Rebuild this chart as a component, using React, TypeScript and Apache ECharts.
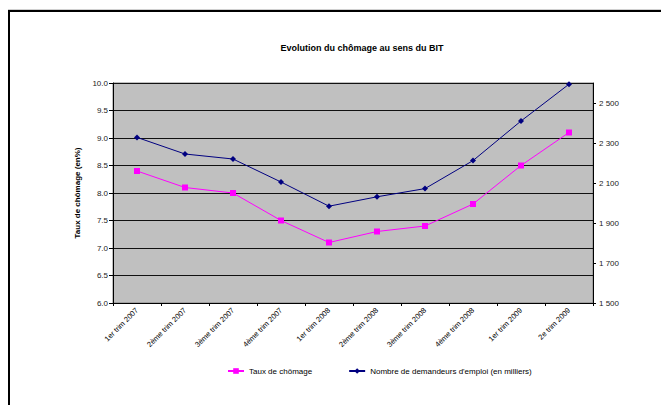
import React, { useEffect, useRef } from "react";
import * as echarts from "echarts";

const categories = [
  "1er trim 2007",
  "2ème trim 2007",
  "3ème trim 2007",
  "4ème trim 2007",
  "1er trim 2008",
  "2ème trim 2008",
  "3ème trim 2008",
  "4ème trim 2008",
  "1er trim 2009",
  "2e trim 2009",
];
const tauxChomage = [8.4, 8.1, 8.0, 7.5, 7.1, 7.3, 7.4, 7.8, 8.5, 9.1];
const demandeurs = [2328, 2245, 2220, 2105, 1984, 2031, 2072, 2212, 2410, 2594];
const rightTicks = [1500, 1700, 1900, 2100, 2300, 2500];

const FONT = "Liberation Sans, Arial, sans-serif";

export default function App() {
  const ref = useRef<HTMLDivElement>(null);
  useEffect(() => {
    if (!ref.current) return;
    const chart = echarts.init(ref.current, null, { renderer: "svg" });
    chart.setOption({
      animation: false,
      backgroundColor: "#ffffff",
      textStyle: { fontFamily: FONT },
      title: {
        text: "Evolution du chômage au sens du BIT",
        left: 357,
        textAlign: "center",
        top: 38,
        textStyle: { fontFamily: FONT, fontSize: 9, fontWeight: "bold", color: "#000" },
      },
      graphic: [
        {
          type: "line",
          shape: { x1: 8, y1: 9.5, x2: 661, y2: 9.5 },
          style: { stroke: "#d0d0d0", lineWidth: 1 },
          silent: true,
        },
        {
          type: "rect",
          shape: { x: 9, y: 11, width: 700, height: 500 },
          style: { fill: "none", stroke: "#000", lineWidth: 2 },
          silent: true,
        },
      ],
      legend: {
        left: 222,
        top: 362,
        itemWidth: 16,
        itemHeight: 7,
        itemGap: 36,
        textStyle: { fontFamily: FONT, fontSize: 8, color: "#000" },
        data: ["Taux de chômage", "Nombre de demandeurs d'emploi (en milliers)"],
      },
      grid: {
        left: 113,
        right: 68,
        top: 83,
        bottom: 102,
        show: true,
        backgroundColor: "#c0c0c0",
        borderColor: "#808080",
        borderWidth: 1,
      },
      xAxis: {
        type: "category",
        data: categories,
        boundaryGap: true,
        axisLine: { lineStyle: { color: "#000", width: 1 } },
        axisTick: { show: true, length: 3, lineStyle: { color: "#000" } },
        axisLabel: {
          rotate: 45,
          fontFamily: FONT,
          fontSize: 7.5,
          color: "#000",
          margin: 6,
          interval: 0,
        },
      },
      yAxis: [
        {
          type: "value",
          min: 6,
          max: 10,
          interval: 0.5,
          name: "Taux de chômage (en%)",
          nameLocation: "middle",
          nameGap: 23,
          nameTextStyle: { fontFamily: FONT, fontSize: 8, fontWeight: "bold", color: "#000" },
          axisLine: { show: true, lineStyle: { color: "#000", width: 1 } },
          axisTick: { show: true, length: 4, lineStyle: { color: "#000" } },
          axisLabel: {
            fontFamily: FONT,
            fontSize: 8,
            color: "#222",
            margin: 5,
            formatter: (v: number) => v.toFixed(1),
          },
          splitLine: { show: true, lineStyle: { color: "#111", width: 1 } },
        },
        {
          type: "value",
          min: 1500,
          max: 2600,
          position: "right",
          axisLine: { show: true, lineStyle: { color: "#000", width: 1 } },
          axisTick: { show: true, length: 3, customValues: rightTicks, lineStyle: { color: "#000" } },
          axisLabel: {
            fontFamily: FONT,
            fontSize: 8,
            color: "#222",
            margin: 6,
            customValues: rightTicks,
            formatter: (v: number) => String(v).replace(/\B(?=(\d{3})+(?!\d))/g, " "),
          },
          splitLine: { show: false },
        },
      ],
      series: [
        {
          name: "Taux de chômage",
          type: "line",
          yAxisIndex: 0,
          data: tauxChomage,
          symbol: "rect",
          symbolSize: 6,
          lineStyle: { color: "#ff00ff", width: 1 },
          itemStyle: { color: "#ff00ff" },
        },
        {
          name: "Nombre de demandeurs d'emploi (en milliers)",
          type: "line",
          yAxisIndex: 1,
          data: demandeurs,
          symbol: "diamond",
          symbolSize: 6,
          lineStyle: { color: "#000080", width: 1 },
          itemStyle: { color: "#000080" },
        },
      ],
    });
    return () => chart.dispose();
  }, []);
  return (
    <div
      ref={ref}
      style={{ position: "fixed", left: 0, top: 0, width: 661, height: 405 }}
    />
  );
}
